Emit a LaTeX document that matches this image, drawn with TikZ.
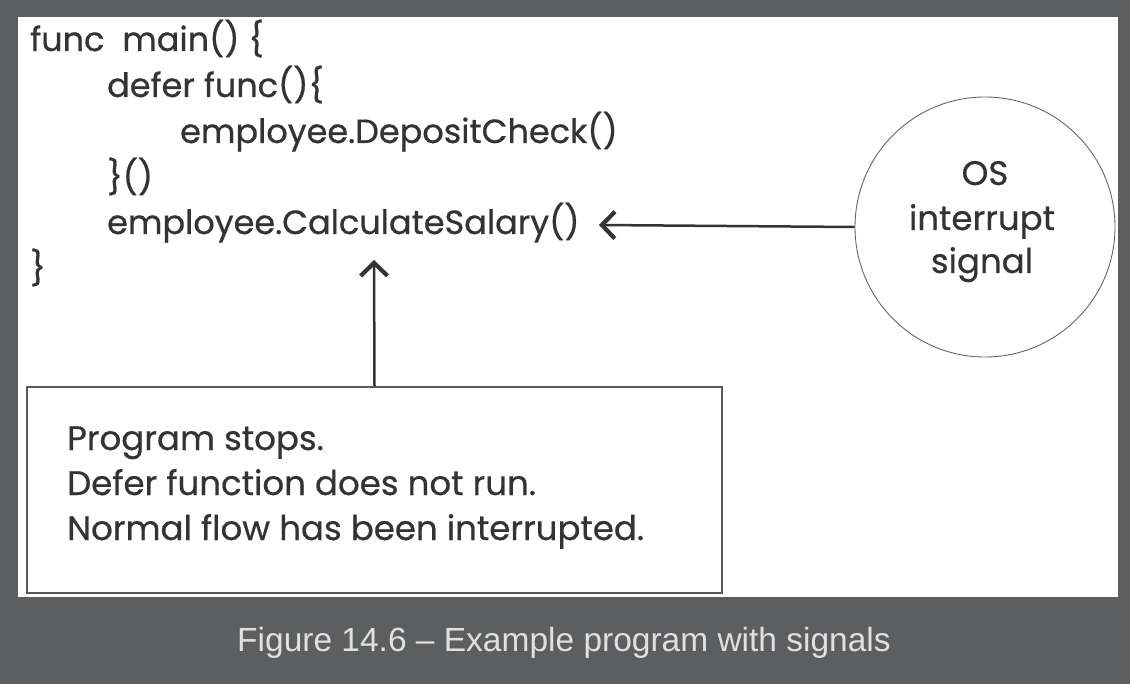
\documentclass[tikz,border=0pt]{standalone}
\usepackage{fontspec}
\setmainfont{Poppins}
\newfontfamily\codefont{Poppins}[FakeBold=0.6]
\newfontfamily\capfont{Liberation Sans}
\usetikzlibrary{arrows.meta}
\definecolor{bgc}{HTML}{5D5E60}
\definecolor{ink}{HTML}{333333}
\definecolor{capc}{HTML}{E0E0E0}
\tikzset{
  code/.style={anchor=base west, inner sep=0, text=ink, font=\codefont\fontsize{33.5}{33.5}\selectfont},
  boxtext/.style={anchor=base west, inner sep=0, text=ink, font=\codefont\fontsize{34}{34}\selectfont},
  ostext/.style={anchor=base, inner sep=0, text=ink, font=\codefont\fontsize{34}{34}\selectfont},
  conn/.style={draw=ink, line width=2.5pt, -{Straight Barb[length=13pt,width=27pt,line width=4.2pt]}},
}
\begin{document}
\begin{tikzpicture}[x=1pt,y=-1pt]
\useasboundingbox[fill=bgc] (0,0) rectangle (1130,684);
\fill[white] (18,17) rectangle (1118,597);
\node[code] (l1) at (30,51) {func\ \ main() \{};
\node[code] (l2) at (107,97) {defer func()\{};
\node[code] (l3) at (180,143) {employee.DepositCheck()};
\node[code] (l4) at (107,189) {\}()};
\node[code] (l5) at (107,234) {employee.CalculateSalary()};
\node[code] (l6) at (30,280) {\}};
\node[draw=black!65, line width=1.6pt, minimum width=695pt, minimum height=206pt, inner sep=0] (box) at (374.5,490) {};
\node[boxtext] (b1) at (67,450) {Program stops.};
\node[boxtext] (b2) at (67,495) {Defer function does not run.};
\node[boxtext] (b3) at (67,540) {Normal flow has been interrupted.};
\node[circle, draw=black!60, line width=0.9pt, minimum size=260pt, inner sep=0] (os) at (985,227) {};
\node[ostext] (t1) at (985,185) {OS};
\node[ostext] (t2) at (982,230) {interrupt};
\node[ostext] (t3) at (982,273) {signal};
\coordinate (hx) at (599,225);
\coordinate (vx) at (374,260);
\draw[conn] (os.west) -- (hx);
\draw[conn] (box.north) -- (vx);
\node[anchor=base, inner sep=0, text=capc, font=\capfont\fontsize{33.5}{33.5}\selectfont] (cap) at (564,651) {Figure 14.6 – Example program with signals};
\end{tikzpicture}
\end{document}
